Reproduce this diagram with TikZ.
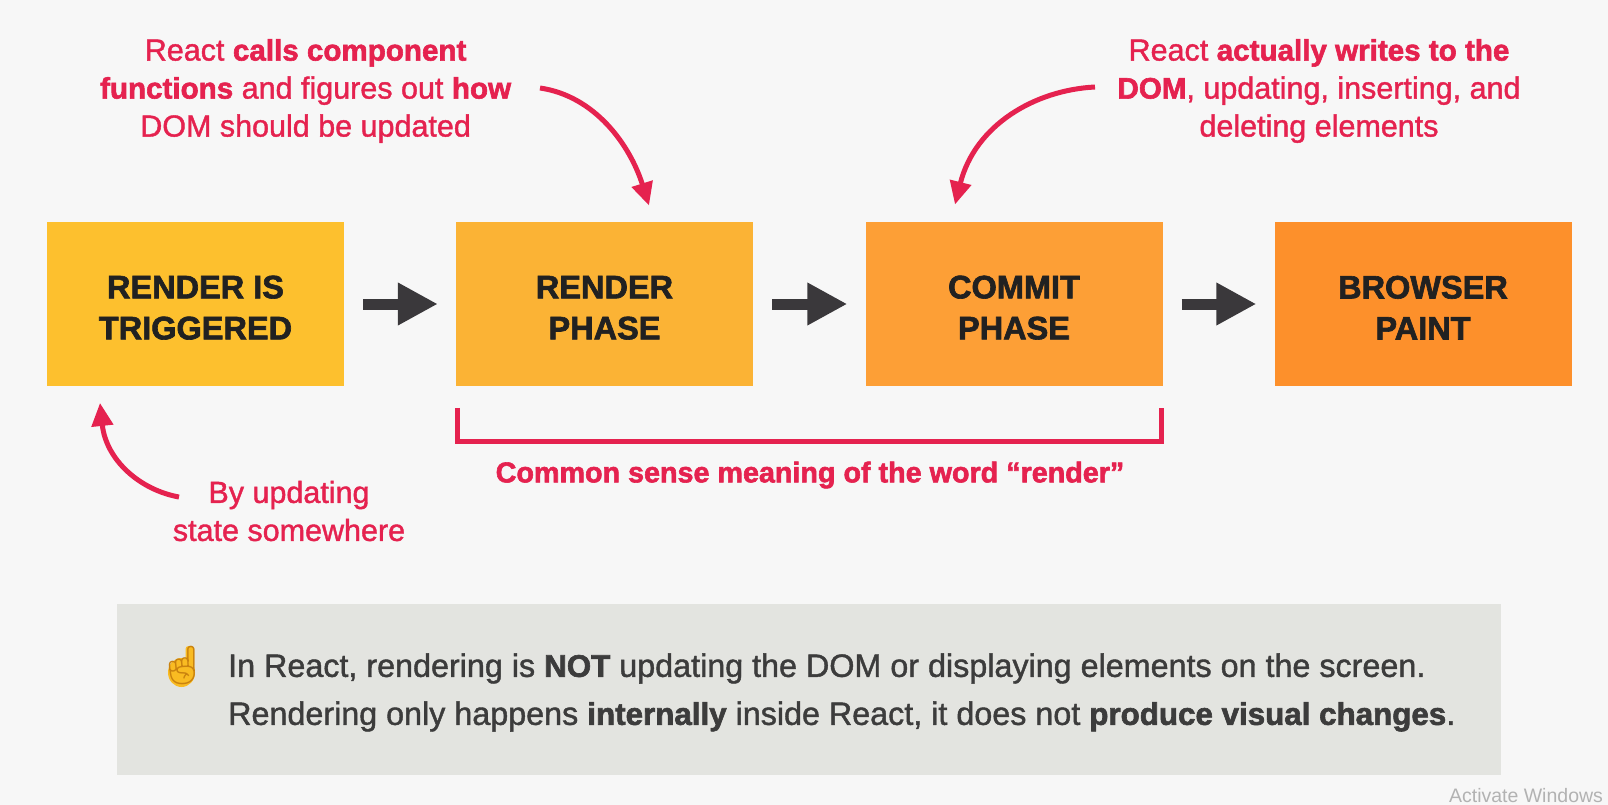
\documentclass[tikz,border=0pt]{standalone}
\usepackage{fontspec}
\setmainfont{Liberation Sans}
\newfontfamily\medfont{Liberation Sans}[FakeBold=1.3]
\newfontfamily\heavyfont{Liberation Sans Bold}[FakeBold=2,Scale=0.97]
\newfontfamily\emojifont{Noto Emoji}
\usetikzlibrary{arrows.meta,calc}
\definecolor{bgc}{HTML}{F7F7F7}
\definecolor{panelc}{HTML}{E3E4E0}
\definecolor{redc}{HTML}{E5224F}
\definecolor{darkc}{HTML}{3A383B}
\definecolor{inkc}{HTML}{212121}
\definecolor{paneltext}{HTML}{3C3C3C}
\definecolor{boxa}{HTML}{FDC02E}
\definecolor{boxb}{HTML}{FBB335}
\definecolor{boxc}{HTML}{FD9F36}
\definecolor{boxd}{HTML}{FD902B}
\definecolor{handc}{HTML}{F9BB22}
\definecolor{handline}{HTML}{C9820F}
\newcommand{\hv}[1]{{\heavyfont #1}}
\newcommand{\lowstrut}{\rule{0pt}{30pt}}
\tikzset{
  x=1pt,y=-1pt,
  phasebox/.style={minimum width=297pt,minimum height=163.5pt,inner sep=0pt,align=center,text=inkc,
    font=\heavyfont\fontsize{33.5}{41}\selectfont},
  flowarrow/.style={draw=darkc,line width=11pt,-{Triangle[length=40pt,width=40pt]}},
  redtext/.style={align=center,inner sep=0pt,text=redc,font=\medfont\fontsize{30.5}{38}\selectfont},
  redarrow/.style={draw=redc,line width=5pt,-{Triangle[length=23pt,width=21pt]}},
  bracketline/.style={draw=redc,line width=5pt},
}
\begin{document}
\begin{tikzpicture}
\useasboundingbox (0,0) rectangle (1608,805);
\fill[bgc] (0,0) rectangle (1608,805);
% boxes
\node[phasebox,fill=boxa] (trig) at (195.5,304) {\lowstrut RENDER IS\\TRIGGERED};
\node[phasebox,fill=boxb] (rend) at (604.5,304) {\lowstrut RENDER\\PHASE};
\node[phasebox,fill=boxc] (comm) at (1014,304) {\lowstrut COMMIT\\PHASE};
\node[phasebox,fill=boxd] (pain) at (1423,304) {\lowstrut BROWSER\\PAINT};
% flow arrows
\draw[flowarrow] ([xshift=19pt]trig.east) -- ([xshift=-18pt]rend.west);
\draw[flowarrow] ([xshift=19pt]rend.east) -- ([xshift=-18pt]comm.west);
\draw[flowarrow] ([xshift=19pt]comm.east) -- ([xshift=-18pt]pain.west);
% captions
\node[redtext] (capa) at (305.6,91) {React \hv{calls component}\\\hv{functions} and figures out \hv{how}\\DOM should be updated};
\node[redtext] (capb) at (1319,91) {React \hv{actually writes to the}\\\hv{DOM}, updating, inserting, and\\deleting elements};
\node[redtext] (capc) at (289,511) {By updating\\state somewhere};
\node[redtext,font=\heavyfont\fontsize{29.6}{38}\selectfont] (capd) at (810,475) {Common sense meaning of the word “render”};
% curved arrows
\coordinate (sa) at (540,88);
\coordinate (ta) at ([shift={(44.5,-16.5)}]rend.north);
\coordinate (sb) at (1095,87);
\coordinate (tb) at ([shift={(-59,-17.5)}]comm.north);
\coordinate (sc) at (179,497);
\coordinate (tc) at ([shift={(-95.5,17)}]trig.south);
\draw[redarrow] (sa) .. controls (595,96) and (630,145) .. (ta);
\draw[redarrow] (sb) .. controls (1035,90) and (975,125) .. (tb);
\draw[redarrow] (sc) .. controls (140,490) and (106,460) .. (tc);
% bracket
\draw[bracketline] ([shift={(1.5,22)}]rend.south west) -- ++(0,34) -| ([shift={(-1.5,22)}]comm.south east);
% panel
\node[fill=panelc,minimum width=1384pt,minimum height=171pt,inner sep=0pt] (panel) at (809,689.5) {};
\fill[handc,rounded corners=3pt] (185.5,646) rectangle (194,668);
\fill[handc] (181.5,672.5) ellipse [x radius=13.5, y radius=14.5];
\node[inner sep=0pt,text=handline,font=\emojifont\fontsize{38}{38}\selectfont] (hand) at (182,666) {☝};
\node[anchor=west,inner sep=0pt,align=left,text=paneltext,font=\medfont\fontsize{32.3}{48}\selectfont] (note) at (228,692.5)
 {In React, rendering is \hv{NOT} updating the DOM or displaying elements on the screen.\\
  Rendering only happens \hv{internally} inside React, it does not \hv{produce visual changes}.};
\node[inner sep=0pt,text=black!30,font=\fontsize{19.5}{22}\selectfont] (wm) at (1526,796) {Activate Windows};
\end{tikzpicture}
\end{document}
